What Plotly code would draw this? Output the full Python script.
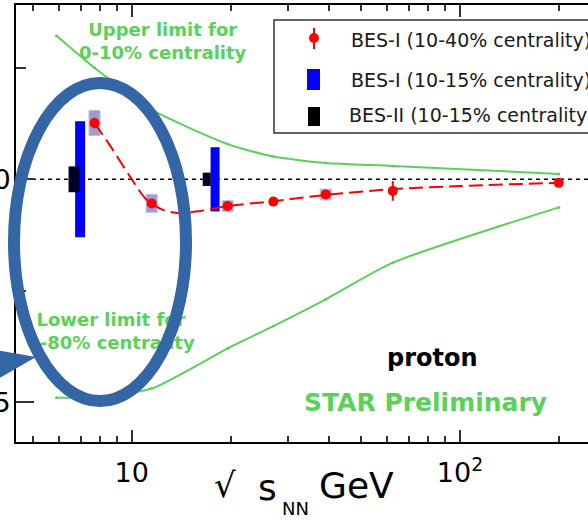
import math
import plotly.graph_objects as go

# ---- data -----------------------------------------------------------------
# BES-I proton points, 10-40% centrality
energy_bes1 = [7.7, 11.5, 19.6, 27, 39, 62.4, 200]
value_bes1 = [1.26, -0.54, -0.60, -0.50, -0.34, -0.26, -0.08]
stat_bes1 = [0.12, 0.05, 0.04, 0.04, 0.04, 0.22, 0.03]
sys_bes1 = [0.28, 0.20, 0.12, 0.0, 0.12, 0.0, 0.0]

# smooth trend through the BES-I points
trend_energy = [7.7, 8.6, 9.9, 11.1, 12.5, 14.0, 16.2, 19.6, 27, 39, 62.4, 100, 200]
trend_value = [1.26, 0.75, 0.05, -0.46, -0.69, -0.76, -0.71, -0.60, -0.49, -0.35, -0.22, -0.15, -0.08]

# BES-I, 10-15% centrality (error bands)
energy_bes1_c = [6.96, 17.94]
value_bes1_c = [0.0, 0.0]
err_bes1_c = [1.30, 0.72]

# BES-II, 10-15% centrality (error bands)
energy_bes2 = [6.67, 16.92]
value_bes2 = [0.0, 0.0]
err_bes2 = [0.29, 0.15]

# model limits
limit_energy = [5.9, 7.7, 11.5, 19.6, 27, 39, 62.4, 200]
upper_limit = [3.22, 2.50, 1.56, 0.79, 0.51, 0.365, 0.30, 0.12]
lower_limit = [-4.90, -4.88, -4.69, -3.79, -3.29, -2.69, -1.87, -0.63]

# axis ticks
x_major = [10, 100]
x_major_text = ["10", "10<sup>2</sup>"]
x_minor = [5, 6, 7, 8, 9, 20, 30, 40, 50, 60, 70, 80, 90, 200]
y_major = [-5, 0]
y_major_text = ["\u22125", "0"]

legend_labels = ["BES-I (10-40% centrality)",
                 "BES-I (10-15% centrality)",
                 "BES-II (10-15% centrality"]

# ---- figure geometry ------------------------------------------------------
W, H = 588, 520
ML, MR, MT, MB = 16, 0, 5, 78
PW, PH = W - ML - MR, H - MT - MB
X_RANGE = [0.6473, 2.390]
Y_RANGE = [-5.89, 3.908]


def px(p):
    return (p - ML) / PW


def py(p):
    return (H - MB - p) / PH


def data_x(p):
    return 10 ** (X_RANGE[0] + (p - ML) / PW * (X_RANGE[1] - X_RANGE[0]))


def data_y(p):
    return Y_RANGE[0] + (H - MB - p) / PH * (Y_RANGE[1] - Y_RANGE[0])


# half-width of a systematic box, as a ratio in energy
BOX_RATIO = 10 ** (5.5 / PW * (X_RANGE[1] - X_RANGE[0]))

GREEN = "#5ad25a"
RED = "#ff0000"
BLUE = "#0000ff"
DARK = "#000028"
RING = "#3466a6"
FONT = "DejaVu Sans"

fig = go.Figure()

# model limits
for vals in (upper_limit, lower_limit):
    fig.add_trace(go.Scatter(
        x=limit_energy, y=vals, mode="lines+markers",
        line=dict(color=GREEN, width=2, shape="spline", smoothing=0.6),
        marker=dict(color=GREEN, size=3), hoverinfo="skip", showlegend=False))

# label for the lower limit (kept in the trace layer, under the ring)
fig.add_trace(go.Scatter(
    x=[data_x(111)], y=[data_y(333)], mode="text",
    text=["<b>Lower limit for<br>0-80% centrality</b>"], textposition="middle center",
    textfont=dict(family=FONT, size=18, color=GREEN),
    hoverinfo="skip", showlegend=False))

# BES-I 10-15% bands, then BES-II on top
for e, v, s, w in zip(energy_bes1_c, value_bes1_c, err_bes1_c, [10, 9]):
    fig.add_trace(go.Scatter(x=[e, e], y=[v - s, v + s], mode="lines",
                             line=dict(color=BLUE, width=w), showlegend=False))
for e, v, s, w in zip(energy_bes2, value_bes2, err_bes2, [11, 8]):
    fig.add_trace(go.Scatter(x=[e, e], y=[v - s, v + s], mode="lines",
                             line=dict(color=DARK, width=w), showlegend=False))

# trend curve
fig.add_trace(go.Scatter(
    x=trend_energy, y=trend_value, mode="lines",
    line=dict(color=RED, width=2, dash="14px,6px", shape="spline", smoothing=0.8),
    hoverinfo="skip", showlegend=False))

# BES-I points with statistical errors
fig.add_trace(go.Scatter(
    x=energy_bes1, y=value_bes1, mode="markers",
    marker=dict(color=RED, size=10),
    error_y=dict(type="data", array=stat_bes1, color=RED, thickness=2, width=0),
    showlegend=False))

shapes = []
# systematic boxes
for e, v, s in zip(energy_bes1, value_bes1, sys_bes1):
    if s > 0:
        shapes.append(dict(type="rect", xref="x", yref="y",
                           x0=e / BOX_RATIO, x1=e * BOX_RATIO, y0=v - s, y1=v + s,
                           fillcolor="#9d9dd3", line=dict(color="#babae3", width=1),
                           layer="below"))
# zero reference line
shapes.append(dict(type="line", xref="paper", yref="y", x0=0, x1=1, y0=0, y1=0,
                   line=dict(color="black", width=1.5, dash="4px,4px"), layer="below"))

# legend frame and symbols
shapes.append(dict(type="rect", xref="paper", yref="paper",
                   x0=px(274), x1=px(640), y0=py(133), y1=py(20),
                   line=dict(color="#333333", width=1.5), fillcolor="white"))
shapes.append(dict(type="line", xref="paper", yref="paper",
                   x0=px(314), x1=px(314), y0=py(49), y1=py(28),
                   line=dict(color=RED, width=2)))
shapes.append(dict(type="circle", xref="paper", yref="paper",
                   x0=px(309), x1=px(319), y0=py(43), y1=py(33),
                   fillcolor=RED, line=dict(width=0)))
shapes.append(dict(type="rect", xref="paper", yref="paper",
                   x0=px(307), x1=px(320), y0=py(90), y1=py(69),
                   fillcolor=BLUE, line=dict(width=0)))
shapes.append(dict(type="rect", xref="paper", yref="paper",
                   x0=px(308), x1=px(320), y0=py(126), y1=py(107),
                   fillcolor="black", line=dict(width=0)))

# highlight ring and pointer
shapes.append(dict(type="circle", xref="paper", yref="paper",
                   x0=px(14), x1=px(186), y0=py(401), y1=py(83),
                   line=dict(color=RING, width=12)))
shapes.append(dict(type="path", xref="paper", yref="paper",
                   path=f"M {px(-4)},{py(350)} L {px(36)},{py(357)} L {px(-4)},{py(380)} Z",
                   fillcolor=RING, line=dict(width=0)))

annotations = []
for label, yy, xx in zip(legend_labels, [40, 80, 115], [349, 349, 347]):
    annotations.append(dict(text=label, xref="paper", yref="paper", x=px(xx), y=py(yy),
                            xanchor="left", yanchor="middle", showarrow=False,
                            font=dict(family=FONT, size=19, color="#1a1a1a")))

extra = [
    dict(text="<b>Upper limit for<br>0-10% centrality</b>", x=px(163), y=py(41),
         font=dict(family=FONT, size=18, color=GREEN)),
    dict(text="<b>proton</b>", x=px(432), y=py(358),
         font=dict(family=FONT, size=24, color="black")),
    dict(text="<b>STAR Preliminary</b>", x=px(425), y=py(402),
         font=dict(family=FONT, size=25, color=GREEN)),
    # axis title pieces
    dict(text="\u221a", x=px(225), y=py(485), font=dict(family=FONT, size=34, color="black")),
    dict(text="s", x=px(267), y=py(487), font=dict(family=FONT, size=36, color="black")),
    dict(text="NN", x=px(295), y=py(508), font=dict(family=FONT, size=18, color="black")),
    dict(text="GeV", x=px(317), y=py(486), xanchor="left",
         font=dict(family=FONT, size=36, color="black")),
]
for a in extra:
    a.setdefault("xref", "paper")
    a.setdefault("yref", "paper")
    a.setdefault("xanchor", "center")
    a.setdefault("yanchor", "middle")
    a.setdefault("showarrow", False)
annotations += extra

fig.update_layout(
    template="none",
    width=W, height=H,
    margin=dict(l=ML, r=MR, t=MT, b=MB),
    paper_bgcolor="white", plot_bgcolor="white",
    showlegend=False,
    shapes=shapes, annotations=annotations,
    xaxis=dict(type="log", range=X_RANGE, automargin=False,
               showline=True, linecolor="black", linewidth=2, mirror="ticks",
               showgrid=False, zeroline=False,
               tickvals=x_major, ticktext=x_major_text,
               ticks="inside", ticklen=12, tickwidth=1.5, tickcolor="#333",
               ticklabelstandoff=6,
               tickfont=dict(family=FONT, size=27, color="black"),
               minor=dict(tickvals=x_minor, ticks="inside", ticklen=6,
                          tickwidth=1.5, tickcolor="#333", showgrid=False)),
    yaxis=dict(range=Y_RANGE, automargin=False,
               showline=True, linecolor="black", linewidth=2, mirror=False,
               showgrid=False, zeroline=False,
               tickvals=y_major, ticktext=y_major_text,
               ticks="inside", ticklen=18, tickwidth=1.5, tickcolor="#333",
               ticklabelstandoff=-2,
               tickfont=dict(family=FONT, size=27, color="black"),
               minor=dict(tickvals=[-2.5, 2.5], ticks="inside", ticklen=10,
                          tickwidth=1.5, tickcolor="#333", showgrid=False)),
)

fig.write_html("out.html")
